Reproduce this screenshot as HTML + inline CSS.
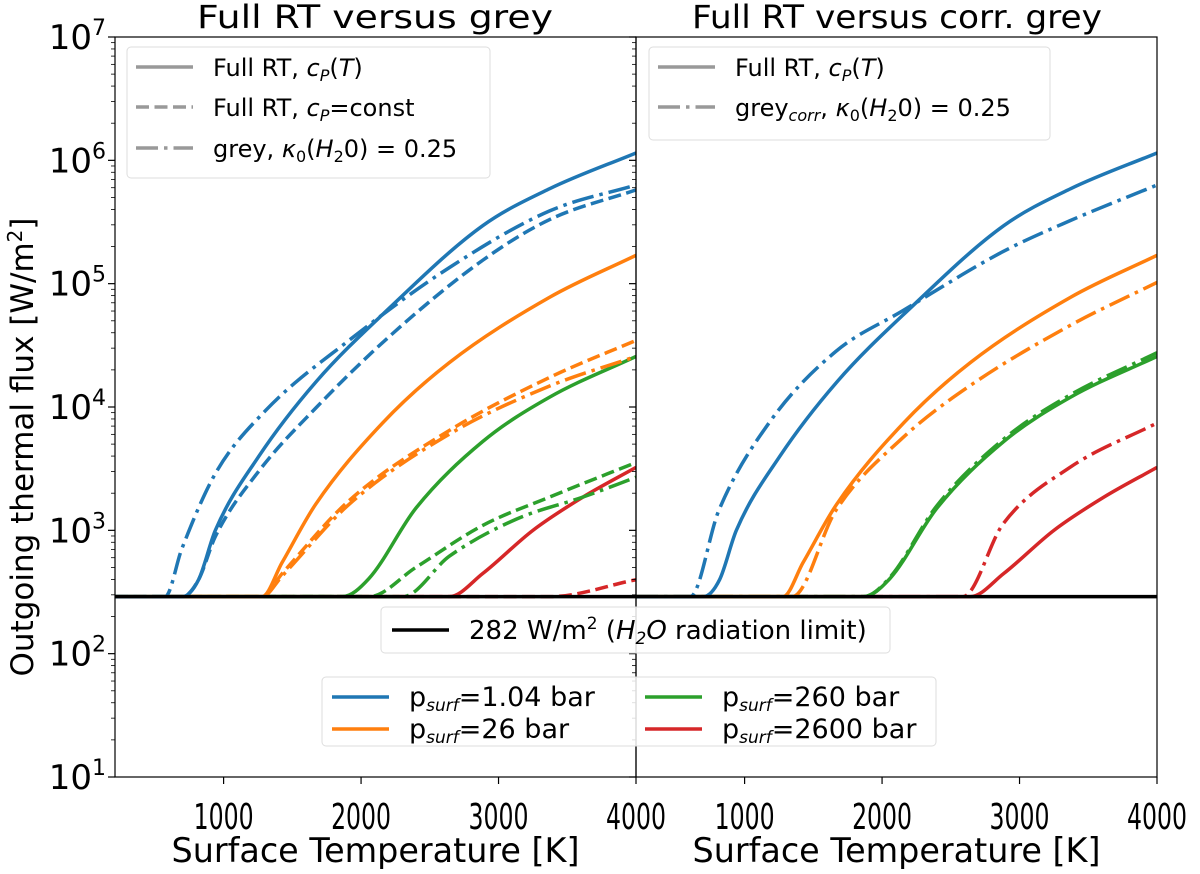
<!DOCTYPE html>
<html><head><meta charset="utf-8"><style>
body{margin:0;background:#fff;font-family:"Liberation Sans","DejaVu Sans",sans-serif}
svg text{font-family:"DejaVu Sans","Liberation Sans",sans-serif}
</style></head><body>
<svg id="c" width="1200" height="869" viewBox="0 0 1200 869" xmlns="http://www.w3.org/2000/svg"></svg>
<script>
const floorFlux = 290;
const xTicks = [1000, 2000, 3000, 4000];
const yTickExps = [1, 2, 3, 4, 5, 6, 7];
// Left panel
const bSolT = [210, 700, 818, 940, 1256, 1669, 2204, 2885, 3372, 4000];
const bSolL = [2.46, 2.46, 2.6, 3.0, 3.6, 4.2, 4.8, 5.47, 5.77, 6.06];
const bDashT = [210, 700, 818, 940, 1256, 1669, 2204, 2885, 3372, 4000];
const bDashL = [2.46, 2.46, 2.6, 2.95, 3.48, 3.99, 4.57, 5.19, 5.52, 5.76];
const bDdT = [210, 575, 696, 940, 1304, 1912, 2642, 3372, 4000];
const bDdL = [2.46, 2.46, 2.85, 3.46, 3.97, 4.54, 5.13, 5.59, 5.80];
const oSolT = [210, 1280, 1426, 1669, 2156, 2642, 3372, 4000];
const oSolL = [2.46, 2.46, 2.74, 3.21, 3.87, 4.36, 4.89, 5.23];
const oDashT = [210, 1280, 1426, 1912, 2642, 3372, 4000];
const oDashL = [2.46, 2.46, 2.65, 3.24, 3.81, 4.24, 4.54];
const oDdT = [210, 1280, 1426, 1912, 2642, 3372, 4000];
const oDdL = [2.46, 2.46, 2.63, 3.21, 3.78, 4.17, 4.41];
const gSolT = [210, 1864, 2058, 2399, 2885, 3372, 4000];
const gSolL = [2.46, 2.46, 2.61, 3.18, 3.72, 4.08, 4.41];
const gDashT = [210, 2058, 2399, 2885, 3372, 4000];
const gDashL = [2.46, 2.46, 2.70, 3.04, 3.27, 3.55];
const gDdT = [210, 2302, 2642, 3128, 3615, 4000];
const gDdL = [2.46, 2.46, 2.79, 3.09, 3.27, 3.43];
const rSolT = [210, 2642, 2885, 3250, 3615, 4000];
const rSolL = [2.46, 2.46, 2.65, 3.0, 3.27, 3.51];
const rDashT = [210, 3372, 4000];
const rDashL = [2.46, 2.46, 2.6];
// Right panel (grey corrected)
const bCorT = [210, 605, 812, 1177, 1663, 2150, 2880, 3366, 4000];
const bCorL = [2.46, 2.46, 3.16, 3.87, 4.45, 4.78, 5.26, 5.51, 5.80];
const oCorT = [210, 1347, 1663, 2150, 2636, 3366, 4000];
const oCorL = [2.46, 2.46, 3.16, 3.75, 4.17, 4.66, 5.01];
const gCorT = [210, 1864, 2058, 2399, 2885, 3372, 4000];
const gCorL = [2.46, 2.46, 2.62, 3.2, 3.74, 4.1, 4.44];
const rCorT = [210, 2587, 2879, 3366, 4000];
const rCorL = [2.46, 2.46, 3.05, 3.51, 3.87];

const NS = "http://www.w3.org/2000/svg";
const svg = document.getElementById('c');
const top_ = 37, bot = 777, panels = [115, 636], pw = 521;
const Tmin = 210, Tmax = 4000;
function xs(p, T){ return panels[p] + (T - Tmin) / (Tmax - Tmin) * pw; }
function ys(l){ return bot - (l - 1) / 6 * (bot - top_); }
function mk(tag, attrs, parent){ const e = document.createElementNS(NS, tag); for (const k in attrs) e.setAttribute(k, attrs[k]); (parent||svg).appendChild(e); return e; }
function txt(x, y, s, size, anchor, parent){ const t = mk('text', {x:x, y:y, 'font-size':size, 'text-anchor':anchor||'middle', fill:'#000'}, parent); t.innerHTML = s; return t; }
function monotone(pts){
  const n = pts.length, d = [], m = [];
  for (let i = 0; i < n-1; i++) d.push((pts[i+1][1]-pts[i][1])/(pts[i+1][0]-pts[i][0]));
  m[0] = d[0]; m[n-1] = d[n-2];
  for (let i = 1; i < n-1; i++) m[i] = (d[i-1]*d[i] <= 0) ? 0 : (d[i-1]+d[i])/2;
  for (let i = 0; i < n-1; i++) {
    if (d[i] === 0) { m[i] = 0; m[i+1] = 0; continue; }
    const a = m[i]/d[i], b = m[i+1]/d[i], s = a*a + b*b;
    if (s > 9) { const t = 3/Math.sqrt(s); m[i] = t*a*d[i]; m[i+1] = t*b*d[i]; }
  }
  let p = 'M' + pts[0][0] + ',' + pts[0][1];
  for (let i = 0; i < n-1; i++) {
    const h = (pts[i+1][0]-pts[i][0])/3;
    p += ' C' + (pts[i][0]+h) + ',' + (pts[i][1]+m[i]*h) + ' ' + (pts[i+1][0]-h) + ',' + (pts[i+1][1]-m[i+1]*h) + ' ' + pts[i+1][0] + ',' + pts[i+1][1];
  }
  return p;
}
const dashes = {solid:'', dashed:'13,5.5', dashdot:'22,6,3.5,6'};
const defs = mk('defs', {});
panels.forEach((px, i) => { const cp = mk('clipPath', {id:'clip'+i}, defs); mk('rect', {x:px, y:top_, width:pw, height:bot-top_}, cp); });

function series(p, T, L, color, style, name){
  const pts = T.map((t, i) => [xs(p, t), ys(Math.max(L[i], Math.log10(floorFlux)))]);
  const path = mk('path', {d:monotone(pts), fill:'none', stroke:color, 'stroke-width':3.5, 'stroke-dasharray':dashes[style], 'clip-path':'url(#clip'+p+')'});
  
  
}
const B='#1f77b4', O='#ff7f0e', G='#2ca02c', R='#d62728';
series(0, rDashT, rDashL, R, 'dashed', 'red-dashed-left');
series(0, rSolT, rSolL, R, 'solid', 'red-solid-left');
series(0, gDdT, gDdL, G, 'dashdot', 'green-grey-left');
series(0, gDashT, gDashL, G, 'dashed', 'green-dashed-left');
series(0, gSolT, gSolL, G, 'solid', 'green-solid-left');
series(0, oDdT, oDdL, O, 'dashdot', 'orange-grey-left');
series(0, oDashT, oDashL, O, 'dashed', 'orange-dashed-left');
series(0, oSolT, oSolL, O, 'solid', 'orange-solid-left');
series(0, bDdT, bDdL, B, 'dashdot', 'blue-grey-left');
series(0, bDashT, bDashL, B, 'dashed', 'blue-dashed-left');
series(0, bSolT, bSolL, B, 'solid', 'blue-solid-left');
series(1, rCorT, rCorL, R, 'dashdot', 'red-greycorr-right');
series(1, rSolT, rSolL, R, 'solid', 'red-solid-right');
series(1, gCorT, gCorL, G, 'dashdot', 'green-greycorr-right');
series(1, gSolT, gSolL, G, 'solid', 'green-solid-right');
series(1, oCorT, oCorL, O, 'dashdot', 'orange-greycorr-right');
series(1, oSolT, oSolL, O, 'solid', 'orange-solid-right');
series(1, bCorT, bCorL, B, 'dashdot', 'blue-greycorr-right');
series(1, bSolT, bSolL, B, 'solid', 'blue-solid-right');

panels.forEach((px, i) => {
  const l = mk('line', {x1:px, x2:px+pw, y1:ys(Math.log10(floorFlux)), y2:ys(Math.log10(floorFlux)), stroke:'#000', 'stroke-width':3.5});
  
  
});

panels.forEach((px, i) => {
  const f = mk('rect', {x:px, y:top_, width:pw, height:bot-top_, fill:'none', stroke:'#000', 'stroke-width':1.2});
  
  
  xTicks.forEach(t => {
    mk('line', {x1:xs(i,t), x2:xs(i,t), y1:bot, y2:bot+7, stroke:'#000', 'stroke-width':1.2});
    const tl = txt(xs(i,t), 829, t, 36);
    tl.setAttribute('textLength', 60);
    tl.setAttribute('lengthAdjust', 'spacingAndGlyphs');
    
    
  });
  yTickExps.forEach(e => {
    mk('line', {x1:px-7, x2:px, y1:ys(e), y2:ys(e), stroke:'#000', 'stroke-width':1.2});
    if (e < 7) for (let m = 2; m < 10; m++) {
      const y = ys(e + Math.log10(m));
      mk('line', {x1:px-4, x2:px, y1:y, y2:y, stroke:'#000', 'stroke-width':0.8});
    }
  });
  const xl = txt(px + pw/2, 862, 'Surface Temperature [K]', 34);
  xl.setAttribute('textLength', 408);
  xl.setAttribute('lengthAdjust', 'spacingAndGlyphs');
  
  
});
yTickExps.forEach(e => {
  const t = txt(106, ys(e)+12, '10<tspan dy="-14" font-size="22">' + e + '</tspan>', 34, 'end');
  
  
});
const yt = txt(0, 0, 'Outgoing thermal flux [W/m<tspan dy="-11" font-size="20">2</tspan><tspan dy="11">]</tspan>', 31);
yt.setAttribute('transform', 'translate(33,447) rotate(-90)');


const t1 = txt(375, 28, 'Full RT versus grey', 32);
t1.setAttribute('textLength', 356);
t1.setAttribute('lengthAdjust', 'spacingAndGlyphs');


const t2 = txt(897, 28, 'Full RT versus corr. grey', 32);
t2.setAttribute('textLength', 410);
t2.setAttribute('lengthAdjust', 'spacingAndGlyphs');



function legendBox(x, y, w, h, name){
  const g = mk('g', {});
  
  
  mk('rect', {x:x, y:y, width:w, height:h, rx:4, fill:'#fff', 'fill-opacity':0.85, stroke:'#ddd', 'stroke-width':1}, g);
  return g;
}
function entry(g, x, y, color, style, label, name, size){
  const e = mk('g', {}, g);
  
  
  mk('line', {x1:x, x2:x+57, y1:y, y2:y, stroke:color, 'stroke-width':3.5, 'stroke-dasharray':dashes[style]}, e);
  txt(x+77, y+9, label, size||24, 'start', e);
}
const gr = '#999';
let lg = legendBox(127, 47, 363, 131, 'left-style-legend');
entry(lg, 136, 67, gr, 'solid', 'Full RT, <tspan font-style="italic">c</tspan><tspan font-size="16" dy="5" font-style="italic">P</tspan><tspan dy="-5">(</tspan><tspan font-style="italic">T</tspan>)', 'legend-full-rt-cpt');
entry(lg, 136, 107, gr, 'dashed', 'Full RT, <tspan font-style="italic">c</tspan><tspan font-size="16" dy="5" font-style="italic">P</tspan><tspan dy="-5">=const</tspan>', 'legend-full-rt-const');
entry(lg, 136, 148, gr, 'dashdot', 'grey, <tspan font-style="italic">κ</tspan><tspan font-size="16" dy="5">0</tspan><tspan dy="-5">(</tspan><tspan font-style="italic">H</tspan><tspan font-size="16" dy="5">2</tspan><tspan dy="-5">0) = 0.25</tspan>', 'legend-grey');
lg = legendBox(649, 47, 401, 93, 'right-style-legend');
entry(lg, 658, 67, gr, 'solid', 'Full RT, <tspan font-style="italic">c</tspan><tspan font-size="16" dy="5" font-style="italic">P</tspan><tspan dy="-5">(</tspan><tspan font-style="italic">T</tspan>)', 'legend-full-rt-cpt-right');
entry(lg, 658, 107, gr, 'dashdot', 'grey<tspan font-size="16" dy="5" font-style="italic">corr</tspan><tspan dy="-5">, </tspan><tspan font-style="italic">κ</tspan><tspan font-size="16" dy="5">0</tspan><tspan dy="-5">(</tspan><tspan font-style="italic">H</tspan><tspan font-size="16" dy="5">2</tspan><tspan dy="-5">0) = 0.25</tspan>', 'legend-grey-corr');
lg = legendBox(381, 607, 509, 46, 'radiation-limit-legend');
entry(lg, 392, 630, '#000', 'solid', '282 W/m<tspan font-size="17" dy="-10">2</tspan><tspan dy="10"> (</tspan><tspan font-style="italic">H</tspan><tspan font-size="17" dy="5" font-style="italic">2</tspan><tspan dy="-5" font-style="italic">O</tspan> radiation limit)', 'legend-radiation-limit', 26);
lg = legendBox(322, 677, 614, 69, 'pressure-legend');
const pl = (v) => 'p<tspan font-size="17" dy="5" font-style="italic">surf</tspan><tspan dy="-5">=' + v + ' bar</tspan>';
entry(lg, 332, 697, B, 'solid', pl('1.04'), 'legend-p-1', 27);
entry(lg, 332, 729, O, 'solid', pl('26'), 'legend-p-26', 27);
entry(lg, 645, 697, G, 'solid', pl('260'), 'legend-p-260', 27);
entry(lg, 645, 729, R, 'solid', pl('2600'), 'legend-p-2600', 27);
</script>
</body></html>
